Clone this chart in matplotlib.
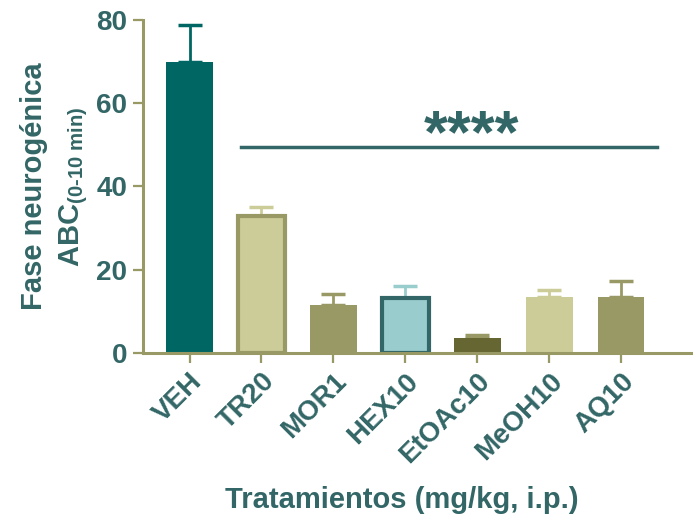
import matplotlib.pyplot as plt

plt.rcParams['font.family'] = ['Liberation Sans', 'DejaVu Sans']
plt.rcParams['font.weight'] = 'bold'
plt.rcParams['axes.labelweight'] = 'bold'
plt.rcParams['mathtext.fontset'] = 'custom'
plt.rcParams['mathtext.rm'] = 'Liberation Sans:bold'
plt.rcParams['mathtext.it'] = 'Liberation Sans:bold'
plt.rcParams['mathtext.bf'] = 'Liberation Sans:bold'

# data
groups = ['VEH', 'TR20', 'MOR1', 'HEX10', 'EtOAc10', 'MeOH10', 'AQ10']
means = [70.0, 32.8, 11.6, 13.3, 3.6, 13.5, 13.5]
sems = [8.8, 2.3, 2.6, 2.7, 0.6, 1.6, 3.8]
fills = ['#006663', '#cccc99', '#999966', '#99cccc', '#666633', '#cccc99', '#999966']
edges = ['#006663', '#999966', '#999966', '#336666', '#666633', '#cccc99', '#999966']
errcol = ['#006663', '#cccc99', '#999966', '#99cccc', '#999966', '#cccc99', '#999966']
edge_w = [0, 3, 0, 3, 0, 0, 0]

txt = '#336666'
axc = '#999966'

fig = plt.figure(figsize=(6.93, 5.19), dpi=100)
ax = fig.add_axes([0.206, 0.32, 0.794, 0.6415])

x = range(len(groups))
for i in x:
    ax.bar(i, means[i], width=0.65, color=fills[i], edgecolor=edges[i],
           linewidth=edge_w[i], zorder=2)
    ax.errorbar(i, means[i], yerr=[[0], [sems[i]]], color=errcol[i],
                elinewidth=2, capsize=8.5, capthick=2.5, zorder=1)

# significance line
ax.plot([0.72, 6.5], [49.5, 49.5], color=txt, lw=2.5, clip_on=False)
ax.text(3.92, 45.0, '****', color=txt, fontsize=44, ha='center', va='bottom')

ax.set_xlim(-0.65, 7.0)
ax.set_ylim(0, 80)
ax.set_yticks([0, 20, 40, 60, 80])
ax.set_xticks(list(x))
ax.set_xticklabels(groups, rotation=45, ha='right', rotation_mode='anchor')

for s in ['top', 'right']:
    ax.spines[s].set_visible(False)
for s in ['left', 'bottom']:
    ax.spines[s].set_color(axc)
    ax.spines[s].set_linewidth(2.2)
ax.tick_params(axis='both', colors=axc, length=7, width=1.6, labelsize=20,
               labelcolor=txt, pad=4)

ax.set_ylabel('Fase neurogénica\nABC$_{\\text{(0-10 min)}}$', fontsize=21,
              color=txt, labelpad=5, linespacing=1.4)
ax.set_xlabel('Tratamientos (mg/kg, i.p.)', fontsize=21, color=txt)
ax.xaxis.set_label_coords(0.47, -0.4)

fig.savefig('out.png', dpi=100)
